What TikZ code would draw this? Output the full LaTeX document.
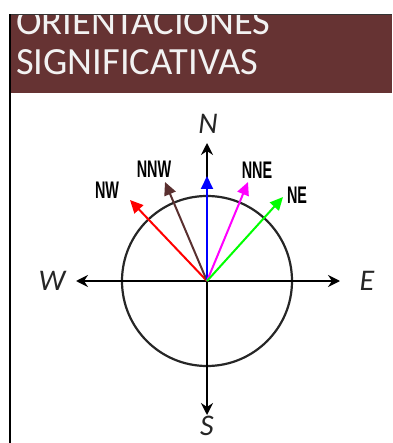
\documentclass[tikz,border=0pt]{standalone}
\usepackage{fontspec}
\setmainfont{Carlito}
\newfontfamily\narrowfont{Liberation Sans}
\usetikzlibrary{arrows.meta}
\definecolor{maroonhdr}{HTML}{663333}
\definecolor{brownarrow}{HTML}{5A3030}
\definecolor{titletext}{HTML}{F2F2F2}
\definecolor{pinkarrow}{HTML}{FF00FF}
\definecolor{greenarrow}{HTML}{00FF00}
\definecolor{bluearrow}{HTML}{0000FF}
\definecolor{redarrow}{HTML}{FF0000}
\tikzset{
  axisline/.style={line width=2.2pt, -{Stealth[length=12pt,width=12pt,inset=4pt]}},
  dirarrow/.style={line width=2pt, -{Triangle[length=13pt,width=12pt]}},
  bigdir/.style={font=\itshape\fontsize{30}{30}\selectfont, text=black!85, inner sep=0pt},
  smalldir/.style={font=\narrowfont\bfseries\fontsize{24}{24}\selectfont, text=black, inner sep=0pt, xscale=0.6},
  titlestyle/.style={font=\fontsize{38.5}{38.5}\selectfont, text=titletext, inner sep=0pt, anchor=base west},
}
\begin{document}
\begin{tikzpicture}[x=1pt,y=-1pt]
\useasboundingbox (0,0) rectangle (392,443);
% header
\fill[maroonhdr] (10,15) rectangle (392,93);
\begin{scope}
\clip (10,15) rectangle (392,93);
\node[titlestyle] (t1) at (16,35) {ORIENTACIONES};
\node[titlestyle] (t2) at (16,75) {SIGNIFICATIVAS};
\end{scope}
\draw[line width=1pt, black!80] (10,15) -- (392,15);
\draw[line width=2.4pt] (10,14.5) -- (10,443);
% compass
\coordinate (O) at (207,281);
\draw[line width=2.2pt, black!85] (O) circle[radius=85];
\coordinate (Ntip) at (207,143);
\coordinate (Stip) at (207,415);
\coordinate (Wtip) at (76,281);
\coordinate (Etip) at (340,281);
\draw[axisline] (O) -- (Ntip);
\draw[axisline] (O) -- (Stip);
\draw[axisline] (O) -- (Wtip);
\draw[axisline] (O) -- (Etip);
\coordinate (NWtip) at (130,200);
\coordinate (NNWtip) at (165,182);
\coordinate (Nbtip) at (207,176);
\coordinate (NNEtip) at (248,182);
\coordinate (NEtip) at (283,197);
\draw[dirarrow, redarrow] (O) -- (NWtip);
\draw[dirarrow, brownarrow] (O) -- (NNWtip);
\draw[dirarrow, bluearrow] (O) -- (Nbtip);
\draw[dirarrow, pinkarrow] (O) -- (NNEtip);
\draw[dirarrow, greenarrow] (O) -- (NEtip);
% labels
\node[bigdir] (N) at (208,124) {N};
\node[bigdir] (S) at (207,426) {S};
\node[bigdir] (W) at (52,281) {W};
\node[bigdir] (E) at (367,281) {E};
\node[smalldir] (NW) at (107,190) {NW};
\node[smalldir] (NNW) at (154,169) {NNW};
\node[smalldir] (NNE) at (257,170) {NNE};
\node[smalldir] (NE) at (297,195) {NE};
\end{tikzpicture}
\end{document}
